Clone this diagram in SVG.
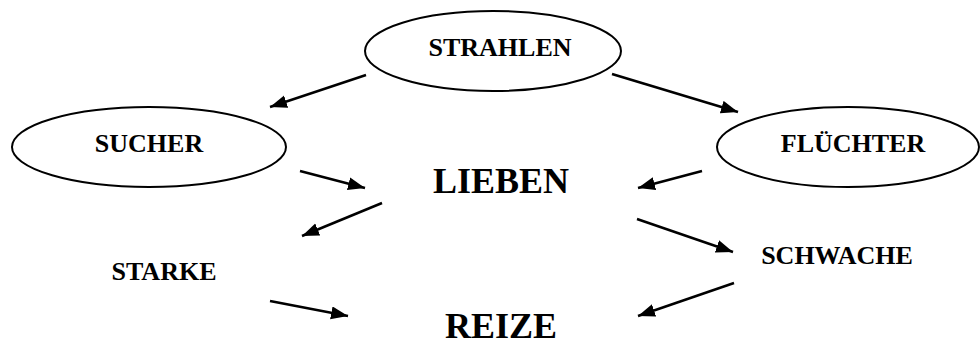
<svg xmlns="http://www.w3.org/2000/svg" width="980" height="345" viewBox="0 0 980 345">
<style>
.bg{fill:#fff}
.node ellipse{fill:#fff;stroke:#000;stroke-width:2}
.t{font-family:"Liberation Serif","Times New Roman",serif;font-weight:bold;fill:#000;text-anchor:middle}
.s{font-size:26px}
.b{font-size:36px}
.conn line{stroke:#000;stroke-width:2.5;marker-end:url(#ah)}
</style>
<defs>
<marker id="ah" markerUnits="userSpaceOnUse" markerWidth="18" markerHeight="14" refX="17" refY="6.5" orient="auto">
<path d="M0,0 L17,6.5 L0,13 z" fill="#000"/>
</marker>
</defs>
<rect class="bg" x="0" y="0" width="980" height="345"/>
<g id="strahlen" class="node">
<ellipse cx="493" cy="51" rx="128" ry="40"/>
<text class="t s" x="500" y="56">STRAHLEN</text>
</g>
<g id="sucher" class="node">
<ellipse cx="149" cy="147" rx="137" ry="40"/>
<text class="t s" x="149" y="152">SUCHER</text>
</g>
<g id="fluechter" class="node">
<ellipse cx="848" cy="147" rx="131" ry="40"/>
<text class="t s" x="853" y="152">FLÜCHTER</text>
</g>
<g id="lieben" class="node">
<text class="t b" x="501" y="193">LIEBEN</text>
</g>
<g id="starke" class="node">
<text class="t s" x="164" y="280">STARKE</text>
</g>
<g id="schwache" class="node">
<text class="t s" x="837" y="264">SCHWACHE</text>
</g>
<g id="reize" class="node">
<text class="t b" x="501" y="338">REIZE</text>
</g>
<g id="connectors" class="conn">
<line x1="366" y1="75" x2="270" y2="107"/>
<line x1="612" y1="74" x2="738" y2="112"/>
<line x1="300" y1="171" x2="365" y2="188"/>
<line x1="702" y1="171" x2="638" y2="188"/>
<line x1="382" y1="203" x2="302" y2="236"/>
<line x1="637" y1="219" x2="733" y2="252"/>
<line x1="270" y1="301" x2="348" y2="316"/>
<line x1="734" y1="283" x2="638" y2="316"/>
</g>
</svg>
